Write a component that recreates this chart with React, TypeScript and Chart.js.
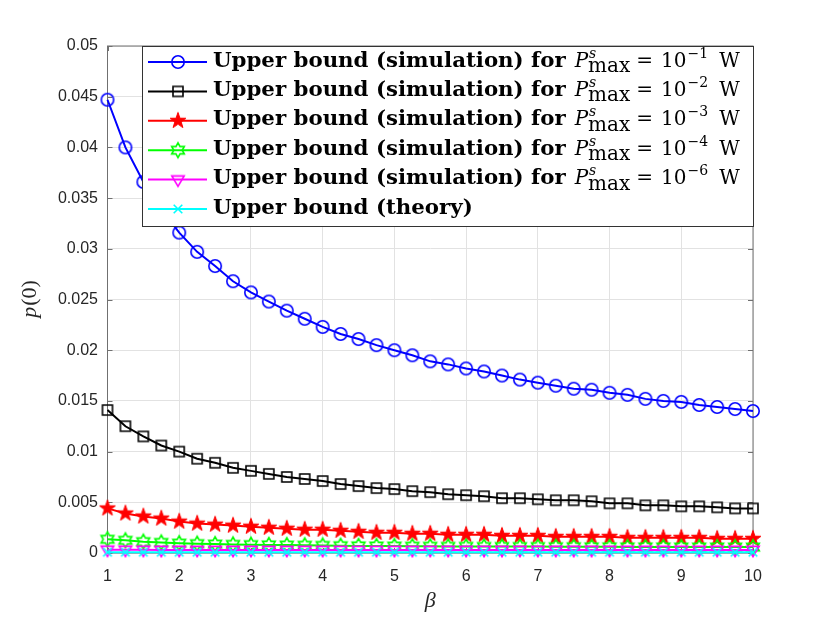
import React, { useEffect, useRef } from 'react';
import Chart from 'chart.js/auto';

// beta values on the x axis (step 0.25)
const betaValues = [
    1, 1.25, 1.5, 1.75, 2, 2.25, 2.5, 2.75, 3, 3.25, 3.5, 3.75, 4, 4.25, 4.5, 4.75, 5, 5.25, 5.5,
    5.75, 6, 6.25, 6.5, 6.75, 7, 7.25, 7.5, 7.75, 8, 8.25, 8.5, 8.75, 9, 9.25, 9.5, 9.75, 10,
];

// p(0), simulation, P_max^s = 1e-1 W
const simPmax1 = [
    0.0447, 0.04, 0.0366, 0.0339, 0.0316, 0.0297, 0.0283, 0.0268, 0.0257, 0.0248, 0.0239, 0.0231,
    0.0223, 0.0216, 0.0211, 0.0205, 0.02, 0.0195, 0.0189, 0.0186, 0.0182, 0.0179, 0.0175, 0.0171,
    0.0168, 0.0165, 0.0162, 0.0161, 0.0158, 0.0156, 0.0152, 0.015, 0.0149, 0.0146, 0.0144, 0.0142,
    0.014,
];

// P_max^s = 1e-2 W
const simPmax2 = [
    0.0141, 0.0125, 0.0115, 0.0106, 0.01, 0.0093, 0.0089, 0.0084, 0.0081, 0.0078, 0.0075, 0.0073,
    0.0071, 0.0068, 0.0066, 0.0064, 0.0063, 0.0061, 0.006, 0.0058, 0.0057, 0.0056, 0.0054, 0.0054,
    0.0053, 0.0052, 0.0052, 0.0051, 0.0049, 0.0049, 0.0047, 0.0047, 0.0046, 0.0046, 0.0045, 0.0044,
    0.0044,
];

// P_max^s = 1e-3 W
const simPmax3 = [
    0.0044, 0.0039, 0.0036, 0.0034, 0.0031, 0.0029, 0.0028, 0.0027, 0.0026, 0.0025, 0.0024, 0.0023,
    0.0023, 0.0022, 0.0021, 0.002, 0.002, 0.0019, 0.0019, 0.0018, 0.0018, 0.0018, 0.0017, 0.0017,
    0.0017, 0.0016, 0.0016, 0.0016, 0.0016, 0.0015, 0.0015, 0.0015, 0.0015, 0.0015, 0.0014, 0.0014,
    0.0014,
];

// P_max^s = 1e-4 W
const simPmax4 = [
    0.00135, 0.00125, 0.00112, 0.00104, 0.00097, 0.00092, 0.00088, 0.00085, 0.00082, 0.0008,
    0.00078, 0.00076, 0.00074, 0.00072, 0.0007, 0.00069, 0.00068, 0.00067, 0.00066, 0.00065,
    0.00065, 0.00064, 0.00064, 0.00063, 0.00063, 0.00062, 0.00062, 0.00061, 0.00061, 0.0006,
    0.0006, 0.0006, 0.00059, 0.00059, 0.00059, 0.00058, 0.00058,
];

// P_max^s = 1e-6 W
const simPmax6 = [
    0.00032, 0.00031, 0.00031, 0.0003, 0.0003, 0.0003, 0.0003, 0.0003, 0.0003, 0.0003, 0.0003,
    0.0003, 0.0003, 0.0003, 0.0003, 0.0003, 0.0003, 0.0003, 0.0003, 0.0003, 0.0003, 0.0003, 0.0003,
    0.0003, 0.0003, 0.0003, 0.0003, 0.0003, 0.0003, 0.0003, 0.0003, 0.0003, 0.0003, 0.0003, 0.0003,
    0.0003, 0.0003,
];

// theory
const theory = [
    0.00008, 0.00008, 0.00008, 0.00008, 0.00008, 0.00008, 0.00008, 0.00008, 0.00008, 0.00008,
    0.00008, 0.00008, 0.00008, 0.00008, 0.00008, 0.00008, 0.00008, 0.00008, 0.00008, 0.00008,
    0.00008, 0.00008, 0.00008, 0.00008, 0.00008, 0.00008, 0.00008, 0.00008, 0.00008, 0.00008,
    0.00008, 0.00008, 0.00008, 0.00008, 0.00008, 0.00008, 0.00008,
];

const exponents = ['1', '2', '3', '4', '6', ''];

type MarkerKind = 'circle' | 'square' | 'pentagram' | 'hexagram' | 'triangleDown' | 'cross';

const makeMarker = (kind: MarkerKind, color: string): HTMLCanvasElement => {
    const c = document.createElement('canvas');
    c.width = 20;
    c.height = 20;
    const ctx = c.getContext('2d')!;
    ctx.translate(10, 10);
    ctx.strokeStyle = color;
    ctx.fillStyle = color;
    ctx.lineWidth = 1.6;
    ctx.lineJoin = 'miter';
    ctx.beginPath();
    if (kind === 'circle') {
        ctx.arc(0, 0, 6.2, 0, Math.PI * 2);
        ctx.stroke();
    } else if (kind === 'square') {
        ctx.rect(-5, -5, 10, 10);
        ctx.stroke();
    } else if (kind === 'pentagram' || kind === 'hexagram') {
        const n = kind === 'pentagram' ? 5 : 6;
        const outer = kind === 'pentagram' ? 8.4 : 7.3;
        const inner = kind === 'pentagram' ? 3.3 : 4.2;
        for (let i = 0; i < n * 2; i++) {
            const ang = -Math.PI / 2 + (i * Math.PI) / n;
            const r = i % 2 === 0 ? outer : inner;
            if (i === 0) ctx.moveTo(r * Math.cos(ang), r * Math.sin(ang));
            else ctx.lineTo(r * Math.cos(ang), r * Math.sin(ang));
        }
        ctx.closePath();
        if (kind === 'pentagram') {
            ctx.lineWidth = 1;
            ctx.fill();
        }
        ctx.stroke();
    } else if (kind === 'triangleDown') {
        ctx.moveTo(-6.2, -3.6);
        ctx.lineTo(6.2, -3.6);
        ctx.lineTo(0, 6.6);
        ctx.closePath();
        ctx.stroke();
    } else {
        ctx.moveTo(-4.3, -4.3);
        ctx.lineTo(4.3, 4.3);
        ctx.moveTo(4.3, -4.3);
        ctx.lineTo(-4.3, 4.3);
        ctx.stroke();
    }
    return c;
};

const setFont = (ctx: CanvasRenderingContext2D, style: string, size: number, family = 'DejaVu Serif') => {
    ctx.font = `${style} ${size}px "${family}"`;
};

const App: React.FC = () => {
    const chartRef = useRef<HTMLCanvasElement>(null);
    const chartInstance = useRef<Chart | null>(null);

    useEffect(() => {
        document.body.style.margin = '0';
        if (!chartRef.current) return;
        if (chartInstance.current) chartInstance.current.destroy();
        const ctx = chartRef.current.getContext('2d');
        if (!ctx) return;

        const series = [
            { values: simPmax1, color: '#0000ff', marker: makeMarker('circle', '#0000ff') },
            { values: simPmax2, color: '#000000', marker: makeMarker('square', '#000000') },
            { values: simPmax3, color: '#ff0000', marker: makeMarker('pentagram', '#ff0000') },
            { values: simPmax4, color: '#00ff00', marker: makeMarker('hexagram', '#00ff00') },
            { values: simPmax6, color: '#ff00ff', marker: makeMarker('triangleDown', '#ff00ff') },
            { values: theory, color: '#00ffff', marker: makeMarker('cross', '#00ffff') },
        ];

        const framePlugin = {
            id: 'frame',
            beforeDatasetsDraw(chart: Chart) {
                const c = chart.ctx;
                const a = chart.chartArea;
                const sx = chart.scales.x;
                const sy = chart.scales.y;
                c.save();
                c.strokeStyle = '#707070';
                c.lineWidth = 1;
                c.strokeRect(a.left, a.top, a.right - a.left, a.bottom - a.top);
                c.beginPath();
                sx.ticks.forEach((t) => {
                    const px = Math.round(sx.getPixelForValue(t.value)) + 0.5;
                    c.moveTo(px, a.bottom);
                    c.lineTo(px, a.bottom - 5);
                    c.moveTo(px, a.top);
                    c.lineTo(px, a.top + 5);
                });
                sy.ticks.forEach((t) => {
                    const py = Math.round(sy.getPixelForValue(t.value)) + 0.5;
                    c.moveTo(a.left, py);
                    c.lineTo(a.left + 5, py);
                    c.moveTo(a.right, py);
                    c.lineTo(a.right - 5, py);
                });
                c.stroke();
                c.restore();
            },
            afterDatasetsDraw(chart: Chart) {
                const c = chart.ctx;
                const a = chart.chartArea;
                c.save();

                // axis titles
                c.fillStyle = '#262626';
                c.textBaseline = 'alphabetic';
                c.textAlign = 'center';
                c.font = 'italic 22px "Liberation Serif"';
                c.fillText('β', (a.left + a.right) / 2, 607);

                c.save();
                c.translate(36, (a.top + a.bottom) / 2);
                c.rotate(-Math.PI / 2);
                c.textAlign = 'left';
                c.font = 'italic 22px "Liberation Serif"';
                const wp = c.measureText('p').width;
                c.font = '22px "Liberation Serif"';
                const wr = c.measureText('(0)').width;
                const x0 = -(wp + wr) / 2;
                c.font = 'italic 22px "Liberation Serif"';
                c.fillText('p', x0, 0);
                c.font = '22px "Liberation Serif"';
                c.fillText('(0)', x0 + wp + 1, 0);
                c.restore();

                // legend
                const W = 611;
                const H = 180;
                const L = a.right - W;
                const T = a.top;
                c.fillStyle = '#ffffff';
                c.fillRect(L, T, W, H);
                c.strokeStyle = '#333333';
                c.lineWidth = 1;
                c.strokeRect(Math.round(L) + 0.5, Math.round(T) + 0.5, W, H);

                setFont(c, 'bold', 20);
                const boldSize = (20 * 353) / c.measureText('Upper bound (simulation) for').width;

                series.forEach((s, i) => {
                    const y = T + 16 + i * 29.4;
                    c.strokeStyle = s.color;
                    c.lineWidth = 2;
                    c.beginPath();
                    c.moveTo(L + 6, y);
                    c.lineTo(L + 65, y);
                    c.stroke();
                    c.drawImage(s.marker, L + 36 - 10, y - 10);

                    const base = y + 4.5;
                    c.fillStyle = '#000000';
                    c.textAlign = 'left';
                    setFont(c, 'bold', boldSize);
                    const exp = exponents[i];
                    let x = L + 71;
                    if (!exp) {
                        c.fillText('Upper bound (theory)', x, base);
                        return;
                    }
                    const head = 'Upper bound (simulation) for';
                    c.fillText(head, x, base);
                    x += c.measureText(head).width + 9;

                    setFont(c, 'italic', 20);
                    c.fillText('P', x, base);
                    x += c.measureText('P').width;
                    setFont(c, 'italic', 14);
                    c.fillText('s', x + 1, base - 9);
                    const ws = c.measureText('s').width + 1;
                    setFont(c, '', 20);
                    c.fillText('max', x, base + 5.5);
                    x += Math.max(ws, c.measureText('max').width) + 6;
                    c.fillText('=', x, base);
                    x += c.measureText('=').width + 8;
                    c.fillText('10', x, base);
                    x += c.measureText('10').width + 1;
                    setFont(c, '', 14);
                    c.fillText('\u2212' + exp, x, base - 9);
                    x += c.measureText('\u2212' + exp).width + 11;
                    setFont(c, '', 20);
                    c.fillText('W', x, base);
                });
                c.restore();
            },
        };

        chartInstance.current = new Chart(ctx, {
            type: 'line',
            data: {
                datasets: series.map((s, i) => ({
                    label: `series ${i}`,
                    data: betaValues.map((b, j) => ({ x: b, y: s.values[j] })),
                    borderColor: s.color,
                    backgroundColor: s.color,
                    borderWidth: 2,
                    pointStyle: s.marker,
                    pointRadius: 6,
                    pointHoverRadius: 6,
                    tension: 0,
                    fill: false,
                    clip: false as any,
                    order: 6 - i,
                })),
            },
            options: {
                animation: false,
                responsive: true,
                maintainAspectRatio: false,
                events: [],
                layout: { padding: { left: 0, right: 77, top: 46, bottom: 0 } },
                plugins: {
                    legend: { display: false },
                    tooltip: { enabled: false },
                },
                scales: {
                    x: {
                        type: 'linear',
                        min: 1,
                        max: 10,
                        ticks: {
                            stepSize: 1,
                            padding: 14,
                            color: '#262626',
                            font: { family: 'Liberation Sans', size: 16 },
                        },
                        grid: { color: '#e2e2e2', drawTicks: false },
                        border: { display: false },
                        afterFit: (scale: any) => {
                            scale.height = 70;
                        },
                    },
                    y: {
                        min: 0,
                        max: 0.05,
                        ticks: {
                            stepSize: 0.005,
                            padding: 9.5,
                            color: '#262626',
                            font: { family: 'Liberation Sans', size: 16 },
                            callback: (v: any) => (v === 0 ? '0' : String(parseFloat(Number(v).toFixed(4)))),
                        },
                        grid: { color: '#e2e2e2', drawTicks: false },
                        border: { display: false },
                        afterFit: (scale: any) => {
                            scale.width = 107.5;
                        },
                    },
                },
            },
            plugins: [framePlugin],
        });

        return () => {
            chartInstance.current?.destroy();
            chartInstance.current = null;
        };
    }, []);

    return (
        <div style={{ width: '830px', height: '623px', position: 'relative', background: '#ffffff' }}>
            <canvas ref={chartRef}></canvas>
        </div>
    );
};

export default App;
